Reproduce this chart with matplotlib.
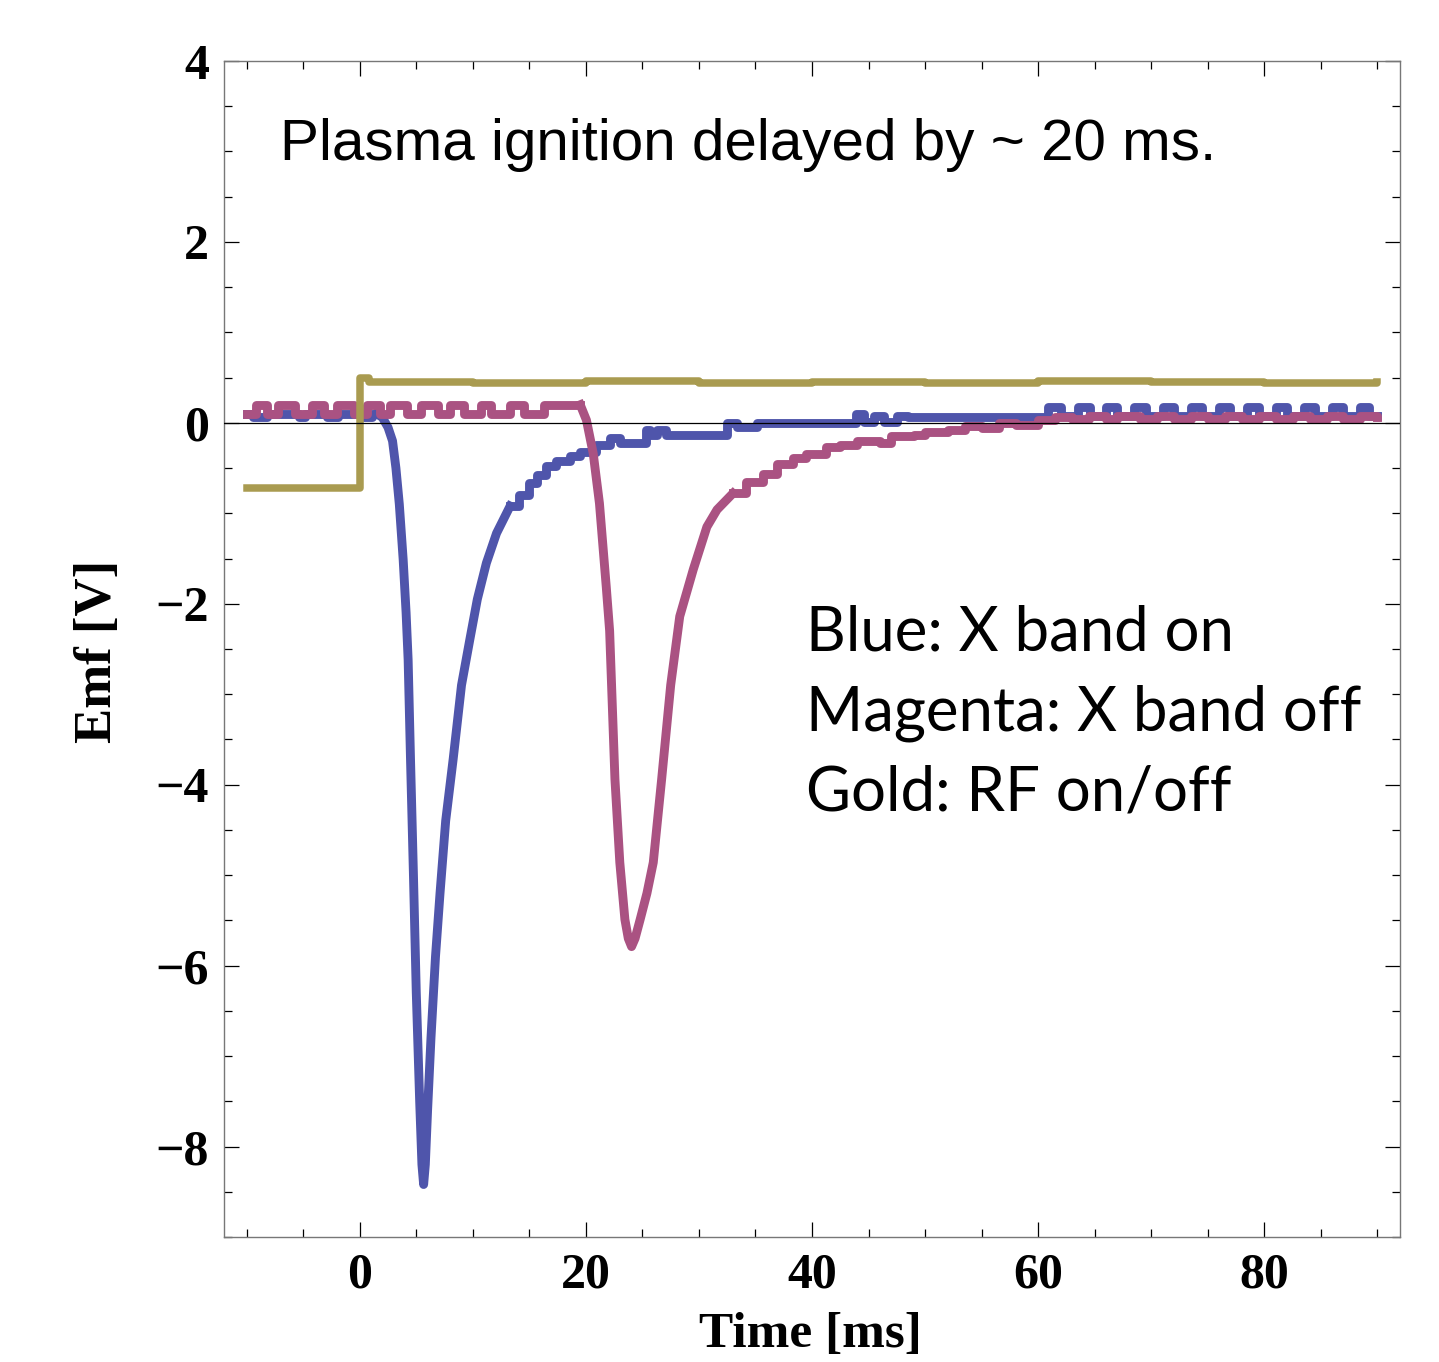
import matplotlib
matplotlib.use("Agg")
import matplotlib.pyplot as plt
from matplotlib.font_manager import FontProperties
from matplotlib.ticker import MultipleLocator

# X band on (blue): flat start, dip, stair-step recovery
blue_pre_t = [-10, -9.4, -8.2, -5.4, -4.8, -2.9, -1.9, 0.2, 1.1, 1.5]
blue_pre_v = [0.1, 0.06, 0.1, 0.06, 0.1, 0.06, 0.1, 0.06, 0.1, 0.1]
blue_dip_t = [1.5, 2.0, 2.5, 2.9, 3.2, 3.5, 3.84, 4.1, 4.28, 4.49, 4.75, 5.0, 5.3,
              5.5, 5.65, 5.8, 6.0, 6.3, 6.7, 7.1, 7.6, 8.26, 9.0, 9.73, 10.4,
              11.2, 12.1, 13.3]
blue_dip_v = [0.1, 0.06, -0.05, -0.2, -0.5, -0.9, -1.51, -2.1, -2.62, -3.72, -5.0, -6.3, -7.5,
              -8.2, -8.42, -8.2, -7.6, -6.8, -5.9, -5.2, -4.4, -3.72, -2.9, -2.4, -1.95,
              -1.55, -1.22, -0.92]
blue_tail_t = [13.3, 14.1, 15.0, 15.7, 16.5, 17.4, 18.6, 19.5, 20.9, 22.1, 23.0,
               25.3, 25.7, 26.3, 27.1, 32.5, 33.4, 35.1, 43.9, 44.6, 45.5, 46.4,
               47.5, 48.5, 60.9, 62.0, 63.5, 64.6, 66.0, 67.0, 68.5, 69.5, 71.0,
               72.0, 73.5, 74.5, 76.0, 77.0, 78.5, 79.5, 81.0, 82.0, 83.5, 84.5,
               86.0, 87.0, 88.5, 89.3, 90]
blue_tail_v = [-0.92, -0.8, -0.67, -0.58, -0.48, -0.42, -0.37, -0.32, -0.24, -0.17, -0.22,
               -0.08, -0.13, -0.08, -0.13, 0.0, -0.05, 0.0, 0.1, 0.01, 0.08, 0.01,
               0.08, 0.06, 0.17, 0.08, 0.17, 0.08, 0.17, 0.08, 0.17, 0.08, 0.17,
               0.08, 0.17, 0.08, 0.17, 0.08, 0.17, 0.08, 0.17, 0.08, 0.17, 0.08,
               0.17, 0.08, 0.17, 0.08, 0.08]

# X band off (magenta)
mag_pre_t = [-10, -9.2, -8.2, -7.2, -5.7, -4.2, -3.2, -2.0, -0.5, 0.6, 1.8, 2.7,
             4.2, 5.4, 6.9, 8.0, 9.2, 10.7, 11.6, 13.3, 14.5, 16.3, 18.6, 19.5]
mag_pre_v = [0.1, 0.2, 0.1, 0.2, 0.1, 0.2, 0.1, 0.2, 0.1, 0.2, 0.1, 0.2,
             0.1, 0.2, 0.1, 0.2, 0.1, 0.2, 0.1, 0.2, 0.1, 0.2, 0.2, 0.2]
mag_dip_t = [19.5, 20.05, 20.65, 21.2, 21.8, 22.1, 22.57, 23.0, 23.45, 23.75, 24.04,
             24.35, 24.8, 25.4, 25.96, 26.7, 27.5, 28.3, 29.5, 30.7, 31.6, 33.0]
mag_dip_v = [0.2, 0.03, -0.34, -0.89, -1.81, -2.3, -3.94, -4.86, -5.49, -5.7, -5.79,
             -5.7, -5.49, -5.2, -4.86, -3.94, -2.9, -2.14, -1.62, -1.15, -0.96, -0.78]
mag_tail_t = [33.0, 34.2, 35.7, 36.9, 38.3, 39.5, 41.2, 42.5, 44.0, 46.0,
              47.0, 49.0, 50.0, 52.0, 53.5, 55.0, 56.5, 58.0, 60.0, 61.5, 63.0,
              64.5, 66.0, 67.0, 69.0, 70.5, 72.0, 73.5, 75.0, 76.5, 78.0, 79.5,
              81.0, 82.5, 84.0, 85.5, 87.0, 88.5, 90]
mag_tail_v = [-0.78, -0.65, -0.56, -0.45, -0.39, -0.34, -0.27, -0.24, -0.2, -0.22,
              -0.15, -0.13, -0.1, -0.08, -0.04, -0.06, 0.0, -0.02, 0.03, 0.07, 0.04,
              0.08, 0.04, 0.08, 0.04, 0.08, 0.04, 0.08, 0.04, 0.08, 0.04, 0.08,
              0.04, 0.08, 0.04, 0.08, 0.04, 0.08, 0.06]

# RF on/off (gold)
gold_t = [-10, 0, 0.8, 10, 20, 30, 40, 50, 60, 70, 80, 90]
gold_v = [-0.72, 0.5, 0.45, 0.44, 0.46, 0.44, 0.45, 0.44, 0.46, 0.45, 0.44, 0.45]

blue = "#4f55ab"
magenta = "#aa5282"
gold = "#a99b50"
lw = 6.4

fig = plt.figure(figsize=(14.39, 13.62), dpi=100)
ax = fig.add_axes([0.1557, 0.0918, 0.8172, 0.8634])

ax.plot(blue_pre_t, blue_pre_v, color=blue, lw=lw, drawstyle="steps-post")
ax.plot(blue_dip_t, blue_dip_v, color=blue, lw=lw, solid_joinstyle="round")
ax.plot(blue_tail_t, blue_tail_v, color=blue, lw=lw, drawstyle="steps-post")
ax.plot(mag_pre_t, mag_pre_v, color=magenta, lw=lw, drawstyle="steps-post")
ax.plot(mag_dip_t, mag_dip_v, color=magenta, lw=lw, solid_joinstyle="round")
ax.plot(mag_tail_t, mag_tail_v, color=magenta, lw=lw, drawstyle="steps-post")
ax.plot(gold_t, gold_v, color=gold, lw=5.4, drawstyle="steps-post")
ax.axhline(0, color="black", lw=0.9, zorder=5)

ax.set_xlim(-12, 92)
ax.set_ylim(-9, 4)
ax.xaxis.set_major_locator(MultipleLocator(20))
ax.xaxis.set_minor_locator(MultipleLocator(5))
ax.yaxis.set_major_locator(MultipleLocator(2))
ax.yaxis.set_minor_locator(MultipleLocator(0.5))
ax.tick_params(which="both", direction="in", top=True, right=True, color="black", width=0.9)
ax.tick_params(which="major", length=11, pad=11)
ax.tick_params(which="minor", length=6)
for s in ax.spines.values():
    s.set_color("#777777")
    s.set_linewidth(1.0)

tick_fp = FontProperties(family="Liberation Serif", weight="bold", size=36)
for lab in ax.get_xticklabels() + ax.get_yticklabels():
    lab.set_fontproperties(tick_fp)

fig.text(0.068, 0.522, "Emf [V]", rotation=90, ha="center", va="center",
         family="Liberation Serif", weight="bold", size=38)
fig.text(0.563, 0.011, "Time [ms]", ha="center", va="baseline",
         family="Liberation Serif", weight="bold", size=37)

ax.text(0.0476, 0.916, "Plasma ignition delayed by ~ 20 ms.", transform=ax.transAxes,
        family="Liberation Sans", size=42, va="baseline")
legend_lines = ["Blue: X band on", "Magenta: X band off", "Gold: RF on/off"]
for i, line in enumerate(legend_lines):
    ax.text(0.495, 0.499 - i * 0.068, line, transform=ax.transAxes,
            family="Lato", size=44.5, va="baseline")

fig.savefig("out.png", dpi=100)
